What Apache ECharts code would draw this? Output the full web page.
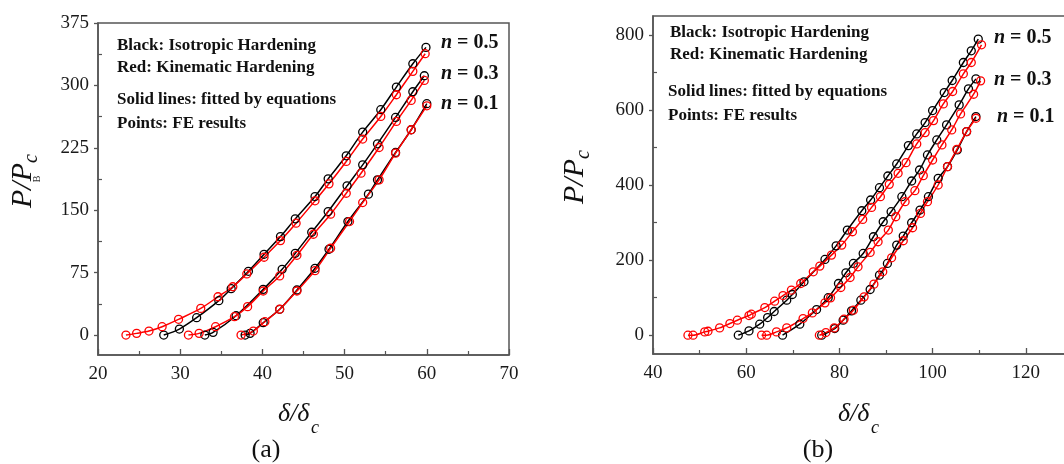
<!DOCTYPE html>
<html><head><meta charset="utf-8">
<script src="https://cdn.jsdelivr.net/npm/echarts@6/dist/echarts.min.js"></script>
<style>html,body{margin:0;padding:0;background:#fff}#c{width:1064px;height:464px}</style>
</head><body><div id="c"></div>
<script>
// ---- Panel (a) data: [delta/delta_c, P/P_c]
const a_iso_05 = [[28.0,0],[29.9,7.2],[32.0,20.8],[34.7,41.3],[36.2,55.7],[38.3,76.6],[40.2,97],[42.2,118.3],[44.0,139.6],[46.4,166.4],[48.0,187.7],[50.2,215.4],[52.2,243.9],[54.4,270.8],[56.3,298],[58.3,326],[59.9,345.7]];
const a_kin_05 = [[23.4,0],[24.7,2],[26.2,4.8],[27.8,10],[29.8,18.9],[32.5,32],[34.6,46],[36.4,58],[38.1,73.4],[40.2,93.5],[42.2,113.5],[44.1,134.4],[46.4,161.3],[48.1,181.7],[50.2,208.6],[52.2,235.5],[54.4,262.7],[56.3,288.8],[58.3,316.9],[59.8,338.1]];
const a_iso_03 = [[33.0,0],[34.0,3.2],[36.8,23.2],[40.1,54.9],[42.4,79],[44.0,98.2],[46.0,123.5],[48.0,148.4],[50.3,179.3],[52.2,204.5],[54.0,229.8],[56.2,261.5],[58.3,292.4],[59.7,311.6]];
const a_kin_03 = [[31.0,0],[32.3,2],[34.3,10],[36.6,22],[38.2,34.1],[40.1,52.9],[42.1,71],[44.2,95.8],[46.2,121.1],[48.3,145.2],[50.2,170.4],[52.0,194.5],[54.2,225.4],[56.3,256.7],[58.1,282],[59.7,306]];
const a_iso_01 = [[37.9,0],[38.5,2],[40.1,14.8],[42.1,30.9],[44.2,54.1],[46.4,80.2],[48.1,103.1],[50.4,136.4],[52.9,169.3],[54.0,186.5],[56.2,219.4],[58.1,246.7],[60.0,278]];
const a_kin_01 = [[37.4,0],[38.9,4.8],[40.3,16],[42.1,31],[44.2,52.9],[46.4,77.4],[48.3,104.3],[50.6,136.4],[52.2,159.2],[54.2,186.5],[56.2,218.6],[58.1,246.7],[60.0,275.5]];

// ---- Panel (b) data
const b_iso_05 = [[58.3,0],[60.6,11.5],[62.9,29.3],[64.6,47.1],[66.0,63.1],[68.7,93.3],[69.9,108.4],[72.4,142.2],[76.9,201.7],[79.3,238],[81.7,280],[84.8,331.5],[86.7,360],[88.6,392.9],[90.4,424],[92.3,456],[94.8,504.9],[96.6,536],[98.4,566.2],[100.0,598.2],[102.5,646.2],[104.2,678.2],[106.6,726.2],[108.3,757.3],[109.8,788.4]];
const b_kin_05 = [[47.5,0],[48.6,0],[51.1,8.9],[51.8,10.6],[54.3,19.5],[56.5,31.1],[58.1,40],[60.6,52.4],[61.1,56],[64.0,73.7],[66.1,90.6],[67.9,105.7],[69.7,120],[71.7,137.7],[74.4,168.9],[75.8,184],[78.3,213.3],[80.5,240],[82.8,275.5],[85.0,308.4],[86.9,340.4],[88.8,368.9],[90.7,401.7],[92.6,431.1],[94.3,459.5],[96.6,509.3],[98.4,539.5],[100.2,571.5],[102.3,616],[104.3,648.9],[106.6,696],[108.3,726.2],[110.5,773.3]];
const b_iso_03 = [[67.8,0],[71.5,29.3],[75.1,68.4],[77.6,100],[79.8,137.7],[81.4,166.2],[83.0,191.1],[85.1,217.7],[87.3,262.2],[89.4,302.2],[91.1,328.9],[93.4,368.9],[95.5,410.6],[97.2,440],[98.9,480],[100.9,520],[103.0,560],[105.7,613.3],[107.7,656],[109.3,682.6]];
const b_kin_03 = [[63.3,0],[64.4,0],[66.5,8.9],[68.7,19.5],[72.2,44.4],[74.2,59.5],[76.9,86.2],[78.1,99.5],[80.3,127.1],[82.3,153.7],[84.0,182.2],[86.6,220.4],[88.3,248.9],[90.5,280],[92.1,315.5],[94.1,355.5],[96.2,384.9],[98.0,424.9],[100.0,466.6],[102.0,506.6],[104.1,546.6],[106.0,589.3],[108.8,641.7],[110.3,677.3]];
const b_iso_01 = [[76.2,0],[79.0,17.7],[80.8,40],[82.6,64.9],[84.6,93.3],[86.6,121.7],[88.6,160],[90.3,191.1],[92.3,240],[93.7,264],[95.5,299.5],[97.3,333.3],[99.1,368.9],[101.2,417.7],[103.2,448.9],[105.3,493.3],[107.3,542.2],[109.3,582.2]];
const b_kin_01 = [[75.7,0],[77.1,7.1],[78.9,19.5],[81.0,42.6],[83.0,66.6],[85.3,102.2],[87.4,136],[89.3,168.9],[91.2,206.2],[93.7,251.5],[95.7,286.2],[97.4,324.4],[98.9,355.5],[101.2,400],[103.2,448.9],[105.2,495.1],[107.3,542.2],[109.3,577.7]];

// ---- Tick labels
const a_yLabels = [0,75,150,225,300,375];
const a_yMinor = [37.5,112.5,187.5,262.5,337.5];
const b_yLabels = [0,200,400,600,800];
const b_yMinor = [100,300,500,700];
const nLabels = ['0.5','0.3','0.1'];

const FONT = '"Liberation Serif","Times New Roman",serif';
const AX = '#555';
const BLACK = '#000', RED = '#ff0000';

function ser(data, color, gi){
  return {type:'line', xAxisIndex:gi, yAxisIndex:gi, data:data, smooth:0.3,
    symbol:'circle', symbolSize:8, showSymbol:true, showAllSymbol:true,
    lineStyle:{color:color, width:1.5},
    itemStyle:{color:'rgba(0,0,0,0)', borderColor:color, borderWidth:1.3},
    emphasis:{disabled:true}, z:2};
}
function xAx(gi,min,max,interval){
  return {type:'value', gridIndex:gi, min:min, max:max, interval:interval,
    axisLine:{show:true,onZero:false,lineStyle:{color:AX,width:1.5}},
    axisTick:{show:true,inside:true,length:6,lineStyle:{color:AX,width:1.3}},
    minorTick:{show:true,splitNumber:2,length:4,lineStyle:{color:AX,width:1.2}},
    axisLabel:{fontFamily:FONT,fontSize:19,color:'#1a1a1a',margin:10},
    splitLine:{show:false}, minorSplitLine:{show:false}};
}
function yAx(gi,min,max,labels){
  return {type:'value', gridIndex:gi, min:min, max:max,
    axisLine:{show:true,onZero:false,lineStyle:{color:AX,width:1.5}},
    axisTick:{show:true,inside:false,length:4,customValues:labels,lineStyle:{color:AX,width:1.3}},
    axisLabel:{fontFamily:FONT,fontSize:19,color:'#1a1a1a',margin:9,customValues:labels},
    splitLine:{show:false}};
}
function yMin(gi,min,max,vals){
  return {type:'value', gridIndex:gi, min:min, max:max, position:'left',
    axisLine:{show:false},
    axisTick:{show:true,inside:true,length:4,customValues:vals,lineStyle:{color:AX,width:1.2}},
    axisLabel:{show:false}, splitLine:{show:false}};
}

function txt(x,y,s,font,opts){
  return Object.assign({type:'text', x:x, y:y, z:10, silent:true,
    style:Object.assign({text:s, font:font, fill:'#111', align:'left', verticalAlign:'middle'}, opts||{})});
}
const LEG = 'bold 17px ' + FONT;
function nLab(x,y,v){
  return {type:'text', x:x, y:y, z:10, silent:true,
    style:{text:'{i|n} = '+v, fill:'#111', align:'left', verticalAlign:'middle',
      font:'bold 20px '+FONT,
      rich:{i:{fontStyle:'italic',fontWeight:'bold',fontSize:20,fontFamily:FONT,fill:'#111'}}}};
}
function yTitle(x,y){
  return {type:'group', x:x, y:y, rotation:Math.PI/2, silent:true, children:[
    {type:'text', x:0, y:0, style:{text:'P/P', font:'italic 30px '+FONT, fill:'#111', align:'left', verticalAlign:'middle'}},
    {type:'text', x:45, y:9, style:{text:'c', font:'italic 20px '+FONT, fill:'#111', align:'left', verticalAlign:'middle'}}
  ]};
}
function xTitle(x,y){
  return {type:'group', x:x, y:y, silent:true, children:[
    {type:'text', x:0, y:0, style:{text:'δ/δ', font:'italic 26px '+FONT, fill:'#111', align:'left', verticalAlign:'middle'}},
    {type:'text', x:33, y:14, style:{text:'c', font:'italic 18px '+FONT, fill:'#111', align:'left', verticalAlign:'middle'}}
  ]};
}

const chart = echarts.init(document.getElementById('c'), null, {renderer:'canvas'});
chart.setOption({
  backgroundColor:'#fff',
  animation:false,
  grid:[
    {left:98, top:23, width:411, height:332, show:true, borderColor:AX, borderWidth:1.5, backgroundColor:'transparent', containLabel:false, outerBoundsMode:'none'},
    {left:653, top:16, width:466, height:338, show:true, borderColor:AX, borderWidth:1.5, backgroundColor:'transparent', containLabel:false, outerBoundsMode:'none'}
  ],
  xAxis:[ xAx(0,20,70,10), xAx(1,40,140,20) ],
  yAxis:[ yAx(0,-24,375,a_yLabels), yAx(1,-50,850,b_yLabels), yMin(0,-24,375,a_yMinor), yMin(1,-50,850,b_yMinor) ],
  series:[
    ser(a_iso_05,BLACK,0), ser(a_iso_03,BLACK,0), ser(a_iso_01,BLACK,0),
    ser(a_kin_05,RED,0), ser(a_kin_03,RED,0), ser(a_kin_01,RED,0),
    ser(b_iso_05,BLACK,1), ser(b_iso_03,BLACK,1), ser(b_iso_01,BLACK,1),
    ser(b_kin_05,RED,1), ser(b_kin_03,RED,1), ser(b_kin_01,RED,1)
  ],
  graphic:[
    txt(117,46,'Black: Isotropic Hardening',LEG),
    txt(117,68,'Red: Kinematic Hardening',LEG),
    txt(117,100,'Solid lines: fitted by equations',LEG),
    txt(117,124,'Points: FE results',LEG),
    txt(670,33,'Black: Isotropic Hardening',LEG),
    txt(670,55,'Red: Kinematic Hardening',LEG),
    txt(668,92,'Solid lines: fitted by equations',LEG),
    txt(668,116,'Points: FE results',LEG),
    nLab(441,43,nLabels[0]), nLab(441,74,nLabels[1]), nLab(441,104,nLabels[2]),
    nLab(994,38,nLabels[0]), nLab(994,80,nLabels[1]), nLab(997,117,nLabels[2]),
    yTitle(23,208), yTitle(575,204),
    {type:'text', x:37, y:179, rotation:Math.PI/2, silent:true, style:{text:'B', font:'10px '+FONT, fill:'#333', align:'center', verticalAlign:'middle'}},
    xTitle(278,414), xTitle(838,414),
    txt(266,450,'(a)','26px '+FONT,{align:'center'}),
    txt(818,450,'(b)','26px '+FONT,{align:'center'})
  ]
});
</script></body></html>
